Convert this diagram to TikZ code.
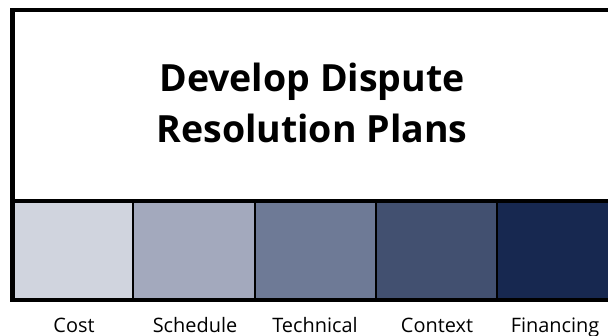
\documentclass[tikz,border=0pt]{standalone}
\usepackage{fontspec}
\setmainfont{Open Sans}
\definecolor{costcol}{HTML}{D0D4DE}
\definecolor{schedcol}{HTML}{A3A9BD}
\definecolor{techcol}{HTML}{6E7A96}
\definecolor{contextcol}{HTML}{425070}
\definecolor{fincol}{HTML}{172850}
\tikzset{
  frame/.style={line width=4.2pt},
  divider/.style={line width=2pt},
  cat/.style={font=\fontsize{17}{19}\selectfont, anchor=base}
}
\begin{document}
\begin{tikzpicture}[x=0.03cm,y=-0.03cm]
                \clip (0,0) rectangle (608,336);
                \fill[white] (0,0) rectangle (608,336);

                \fill[costcol] (12.5,201) rectangle (133,300);
                \fill[schedcol] (133,201) rectangle (255,300);
                \fill[techcol] (255,201) rectangle (376,300);
                \fill[contextcol] (376,201) rectangle (497,300);
                \fill[fincol] (497,201) rectangle (620,300);

                \draw[divider] (133,201) -- (133,300);
                \draw[divider] (255,201) -- (255,300);
                \draw[divider] (376,201) -- (376,300);
                \draw[divider] (497,201) -- (497,300);

                \draw[frame] (12.5,10) rectangle (625,300);
                \draw[frame] (12.5,201) -- (625,201);

                \node[align=center, font=\fontsize{32}{44}\selectfont\bfseries] (title) at (312,103) {Develop Dispute\\Resolution Plans};

                \node[cat] (cost) at (74,332) {Cost};
                \node[cat] (schedule) at (195,332) {Schedule};
                \node[cat] (technical) at (315,332) {Technical};
                \node[cat] (context) at (437,332) {Context};
                \node[cat] (financing) at (555,332) {Financing};
            \end{tikzpicture}
\end{document}
